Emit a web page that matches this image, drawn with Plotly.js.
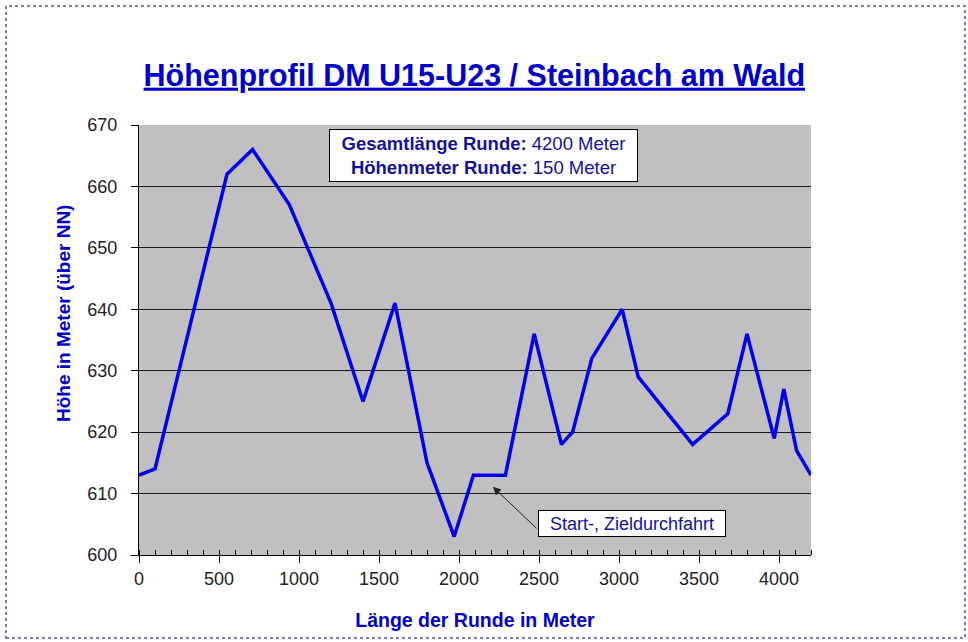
<!DOCTYPE html>
<html>
<head>
<meta charset="utf-8">
<script src="https://cdn.plot.ly/plotly-3.0.1.min.js"></script>
<style>
  html, body { margin: 0; padding: 0; background: #ffffff; }
  #chart { width: 968px; height: 642px; }
</style>
</head>
<body>
<div id="chart"></div>
<script>
// Distance along the lap (m)
const distance = [0, 100, 550, 710, 940, 1200, 1400, 1600, 1800, 1970, 2090, 2290, 2470, 2640, 2710, 2830, 3020, 3120, 3460, 3680, 3800, 3970, 4030, 4110, 4200];
// Altitude (m above NN)
const altitude = [613, 614, 662, 666, 657, 641, 625, 641, 615, 603, 613, 613, 636, 618, 620, 632, 640, 629, 618, 623, 636, 619, 627, 617, 613];

const xTickValues = [0, 500, 1000, 1500, 2000, 2500, 3000, 3500, 4000];
const yTickValues = [600, 610, 620, 630, 640, 650, 660, 670];

const totalLength = 4200;
const totalClimb = 150;

const chartTitle = 'Höhenprofil DM U15-U23 / Steinbach am Wald';
const xTitle = 'Länge der Runde in Meter';
const yTitle = 'Höhe in Meter (über NN)';
const startLabel = 'Start-, Zieldurchfahrt';

const SANS = 'Liberation Sans, Arial, sans-serif';
const BLUE = '#0000CC';
const NAVY = '#12129C';

const trace = {
  type: 'scatter',
  mode: 'lines',
  x: distance,
  y: altitude,
  line: { color: '#0000EE', width: 3.5 },
  hoverinfo: 'x+y',
  showlegend: false
};

const layout = {
  width: 968,
  height: 642,
  margin: { l: 139, r: 157, t: 125, b: 87 },
  paper_bgcolor: '#ffffff',
  plot_bgcolor: '#C0C0C0',
  showlegend: false,
  title: {
    text: chartTitle,
    x: 0.49,
    xref: 'container',
    xanchor: 'center',
    y: 1 - 75 / 642,
    yref: 'container',
    yanchor: 'middle',
    font: { family: SANS, size: 30.5, color: BLUE, weight: 'bold', lineposition: 'under' }
  },
  xaxis: {
    range: [0, 4200],
    tickmode: 'array',
    tickvals: xTickValues,
    ticktext: xTickValues.map(String),
    ticks: 'outside',
    ticklen: 7,
    tickwidth: 1,
    tickcolor: '#000000',
    minor: { dtick: 100, tick0: 0, ticks: 'inside', ticklen: 5, tickwidth: 1, tickcolor: '#000000' },
    showline: true,
    linecolor: '#000000',
    linewidth: 1,
    showgrid: false,
    zeroline: false,
    tickfont: { family: SANS, size: 18, color: '#222222' },
    title: {
      text: xTitle,
      standoff: 25,
      font: { family: SANS, size: 19.5, color: BLUE, weight: 'bold' }
    },
    fixedrange: true
  },
  yaxis: {
    range: [600, 670],
    tickmode: 'array',
    tickvals: yTickValues,
    ticktext: yTickValues.map(String),
    ticks: 'outside',
    ticklen: 7,
    tickwidth: 1,
    tickcolor: '#000000',
    ticklabelstandoff: 10,
    showline: true,
    linecolor: '#000000',
    linewidth: 1,
    showgrid: true,
    gridcolor: '#1a1a1a',
    gridwidth: 1,
    zeroline: false,
    tickfont: { family: SANS, size: 18, color: '#222222' },
    fixedrange: true
  },
  annotations: [
    {
      xref: 'paper', yref: 'paper',
      x: (63 - 139) / 672, y: (555 - 314) / 430,
      xanchor: 'center', yanchor: 'middle',
      text: '<b>' + yTitle + '</b>',
      textangle: -90,
      showarrow: false,
      font: { family: SANS, size: 19, color: BLUE }
    },
    {
      xref: 'paper', yref: 'paper',
      x: (484 - 139) / 672, y: (555 - 155) / 430,
      xanchor: 'center', yanchor: 'middle',
      text: '<b>Gesamtlänge Runde:</b> ' + totalLength + ' Meter<br><b>Höhenmeter Runde:</b> ' + totalClimb + ' Meter',
      showarrow: false,
      align: 'center',
      width: 305,
      height: 49,
      bgcolor: '#ffffff',
      bordercolor: '#000000',
      borderwidth: 1,
      borderpad: 1,
      font: { family: SANS, size: 18.5, color: NAVY }
    },
    {
      xref: 'x', yref: 'y', axref: 'x', ayref: 'y',
      x: 2212, y: 611.1,
      ax: 2494, ay: 604.1,
      text: '',
      showarrow: true,
      arrowhead: 2,
      arrowsize: 1.6,
      arrowwidth: 1,
      arrowcolor: '#222222'
    },
    {
      xref: 'paper', yref: 'paper',
      x: (632 - 139) / 672, y: (555 - 523) / 430,
      xanchor: 'center', yanchor: 'middle',
      text: startLabel,
      showarrow: false,
      width: 184,
      height: 23,
      bgcolor: '#ffffff',
      bordercolor: '#000000',
      borderwidth: 1,
      borderpad: 1,
      font: { family: SANS, size: 18, color: NAVY }
    }
  ],
  shapes: [
    {
      type: 'rect',
      xref: 'paper', yref: 'paper',
      x0: (6 - 139) / 672, x1: (965 - 139) / 672,
      y0: (555 - 638) / 430, y1: (555 - 6) / 430,
      line: { color: '#7C7CB4', width: 2, dash: 'dot' },
      fillcolor: 'rgba(0,0,0,0)',
      layer: 'below'
    }
  ]
};

Plotly.newPlot('chart', [trace], layout, { displayModeBar: false, staticPlot: true });
</script>
</body>
</html>
